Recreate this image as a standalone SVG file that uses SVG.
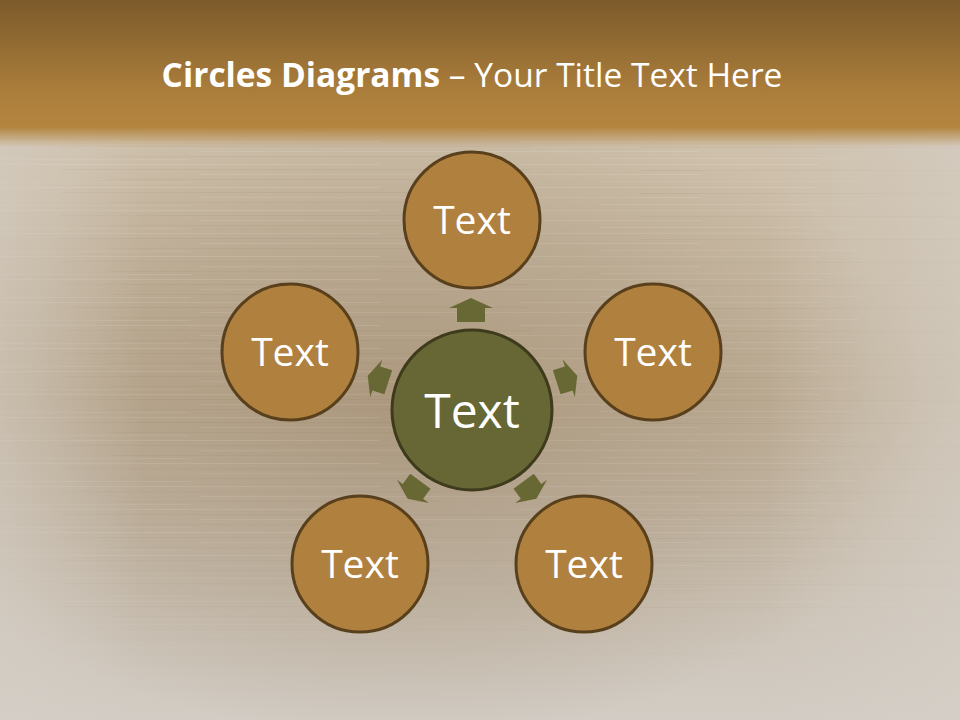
<svg xmlns="http://www.w3.org/2000/svg" xmlns:xlink="http://www.w3.org/1999/xlink" width="960" height="720" viewBox="0 0 960 720">
<defs>
<linearGradient id="hdr" x1="0" y1="0" x2="0" y2="1">
<stop offset="0" stop-color="#7c5b2b"/>
<stop offset="0.75" stop-color="#ad7f3c"/>
<stop offset="1" stop-color="#b3853f"/>
</linearGradient>
<linearGradient id="wood" x1="0" y1="0" x2="0" y2="1">
<stop offset="0" stop-color="#cbb99e"/>
<stop offset="0.05" stop-color="#d5c8b4"/>
<stop offset="0.25" stop-color="#cdbfaa"/>
<stop offset="0.55" stop-color="#c3b49e"/>
<stop offset="0.8" stop-color="#cbc1b3"/>
<stop offset="1" stop-color="#d2ccc4"/>
</linearGradient>
<radialGradient id="shade" cx="0.42" cy="0.48" r="0.55">
<stop offset="0" stop-color="#7d6240" stop-opacity="0.35"/>
<stop offset="0.6" stop-color="#7d6240" stop-opacity="0.18"/>
<stop offset="1" stop-color="#7d6240" stop-opacity="0"/>
</radialGradient>
<linearGradient id="sides" x1="0" y1="0" x2="1" y2="0">
<stop offset="0" stop-color="#d6d0c8" stop-opacity="0.5"/>
<stop offset="0.15" stop-color="#d6d0c8" stop-opacity="0"/>
<stop offset="0.8" stop-color="#d6d0c8" stop-opacity="0"/>
<stop offset="1" stop-color="#d6d0c8" stop-opacity="0.6"/>
</linearGradient>
<linearGradient id="blend" x1="0" y1="0" x2="0" y2="1">
<stop offset="0" stop-color="#b3853f" stop-opacity="1"/>
<stop offset="1" stop-color="#b3853f" stop-opacity="0"/>
</linearGradient>
<linearGradient id="gfade" x1="0" y1="0" x2="0" y2="1">
<stop offset="0" stop-color="#fff" stop-opacity="1"/>
<stop offset="0.7" stop-color="#fff" stop-opacity="0.8"/>
<stop offset="1" stop-color="#fff" stop-opacity="0"/>
</linearGradient>
<mask id="gmask"><rect x="0" y="140" width="960" height="560" fill="url(#gfade)"/></mask>
<pattern id="grain" x="0" y="0" width="960" height="23" patternUnits="userSpaceOnUse">
<rect x="0" y="3" width="380" height="1" fill="#ffffff" opacity="0.12"/>
<rect x="520" y="3" width="300" height="1" fill="#ffffff" opacity="0.1"/>
<rect x="60" y="8" width="470" height="1" fill="#6b5232" opacity="0.06"/>
<rect x="640" y="9" width="320" height="1" fill="#6b5232" opacity="0.06"/>
<rect x="200" y="13" width="500" height="1" fill="#ffffff" opacity="0.1"/>
<rect x="110" y="18" width="330" height="1" fill="#6b5232" opacity="0.06"/>
<rect x="0" y="21" width="190" height="1" fill="#ffffff" opacity="0.09"/>
<rect x="600" y="20" width="260" height="1" fill="#ffffff" opacity="0.09"/>
</pattern>
<polygon id="arr" points="0,-12 22,-2 14,-2 14,12 -14,12 -14,-2 -22,-2"/>
</defs>
<style>
.outer{fill:#b0803f;stroke:#59401c;stroke-width:3}
.center{fill:#666734;stroke:#3e3a1c;stroke-width:3}
.arrow{fill:#686835}
.lbl{font-family:"Open Sans","Liberation Sans",sans-serif;fill:#ffffff;text-anchor:middle}
.title{font-family:"Open Sans","Liberation Sans",sans-serif;fill:#ffffff;font-size:33.5px;text-anchor:middle}
</style>
<rect x="0" y="0" width="960" height="720" fill="url(#wood)"/>
<rect x="0" y="130" width="960" height="590" fill="url(#shade)"/>
<rect x="0" y="140" width="960" height="560" fill="url(#grain)" mask="url(#gmask)"/>
<rect x="0" y="130" width="960" height="590" fill="url(#sides)"/>
<rect x="0" y="0" width="960" height="128" fill="url(#hdr)"/>
<rect x="0" y="127" width="960" height="20" fill="url(#blend)"/>
<text class="title" x="472" y="87"><tspan font-weight="bold">Circles Diagrams</tspan> – Your Title Text Here</text>
<g id="connectors" class="arrow">
<use xlink:href="#arr" href="#arr" transform="translate(471,310)"/>
<use xlink:href="#arr" href="#arr" transform="translate(567,379) rotate(72) scale(0.9)"/>
<use xlink:href="#arr" href="#arr" transform="translate(530,490) rotate(144) scale(0.9)"/>
<use xlink:href="#arr" href="#arr" transform="translate(414,490) rotate(216) scale(0.9)"/>
<use xlink:href="#arr" href="#arr" transform="translate(378,379) rotate(-72) scale(0.9)"/>
</g>
<g id="node-center">
<circle class="center" cx="472" cy="410" r="80"/>
<text class="lbl" x="472" y="428" font-size="48">Text</text>
</g>
<g id="node-top">
<circle class="outer" cx="472" cy="220" r="68"/>
<text class="lbl" x="472" y="234" font-size="39">Text</text>
</g>
<g id="node-right">
<circle class="outer" cx="653" cy="352" r="68"/>
<text class="lbl" x="653" y="366" font-size="39">Text</text>
</g>
<g id="node-bottom-right">
<circle class="outer" cx="584" cy="564" r="68"/>
<text class="lbl" x="584" y="578" font-size="39">Text</text>
</g>
<g id="node-bottom-left">
<circle class="outer" cx="360" cy="564" r="68"/>
<text class="lbl" x="360" y="578" font-size="39">Text</text>
</g>
<g id="node-left">
<circle class="outer" cx="290" cy="352" r="68"/>
<text class="lbl" x="290" y="366" font-size="39">Text</text>
</g>
</svg>
